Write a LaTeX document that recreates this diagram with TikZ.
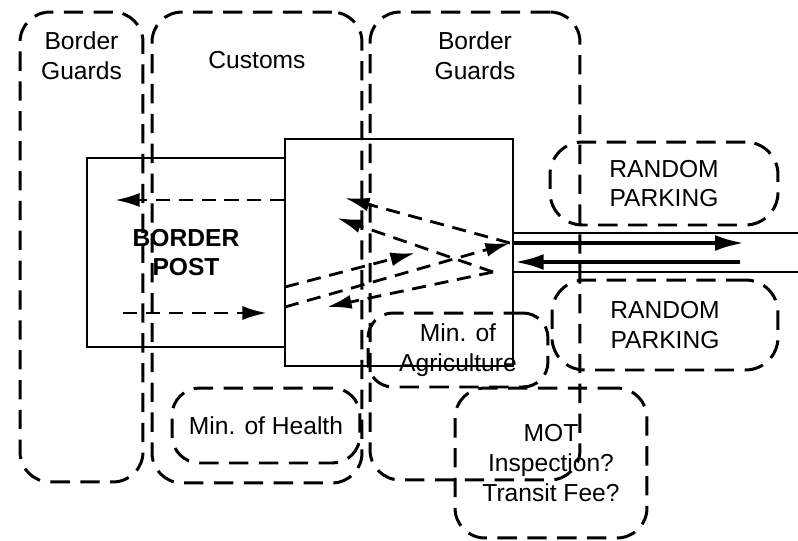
\documentclass[tikz,border=0pt]{standalone}
\usepackage{fontspec}
\setmainfont{Liberation Sans}
\usetikzlibrary{arrows.meta,positioning}
\tikzset{>={Latex[length=14pt,width=8pt]}}

\begin{document}
\begin{tikzpicture}[x=0.02cm,y=-0.02cm,
		font=\fontsize{14}{17}\selectfont,
		area/.style={draw, dash pattern=on 11pt off 6pt, line width=1.7pt, rounded corners=0.6cm, inner sep=0pt, align=center},
		room/.style={draw, line width=0.9pt, inner sep=0pt, align=center},
		flow/.style={->, dash pattern=on 8pt off 5pt, line width=1.6pt},
		lane/.style={-{Latex[length=17pt,width=9pt]}, line width=2.6pt},
		tag/.style={align=center, inner sep=0pt}]
		\useasboundingbox (0,0) rectangle (798,541);

		% zones of the crossing
		\node[area, minimum width=2.46cm, minimum height=9.4cm] (guardsL) at (81.5,247) {};
		\node[area, minimum width=4.2cm, minimum height=9.42cm] (customs) at (257,247.5) {};
		\node[area, minimum width=4.2cm, minimum height=9.36cm] (guardsR) at (475,246) {};
		\node[tag] (guardsLtxt) [below=12pt of guardsL.north] {Border\\Guards};
		\node[tag] (customstxt) [below=23pt of customs.north] {Customs};
		\node[tag] (guardsRtxt) [below=12pt of guardsR.north] {Border\\Guards};

		% buildings
		\node[room, minimum width=3.96cm, minimum height=3.78cm, font=\fontsize{14}{17}\selectfont\bfseries] (post) at (186,252.5) {BORDER\\POST};
		\node[room, minimum width=4.56cm, minimum height=4.54cm] (hall) at (399,252.5) {};

		% offices and parking
		\node[area, minimum width=4.56cm, minimum height=1.66cm, rounded corners=0.65cm] (parkA) at (664,183.5) {RANDOM\\PARKING};
		\node[area, minimum width=4.52cm, minimum height=1.8cm, rounded corners=0.65cm] (parkB) at (665,325) {RANDOM\\PARKING};
		\node[area, minimum width=3.6cm, minimum height=1.48cm, rounded corners=0.5cm] (agri) at (458,350) {Min. of\\Agriculture};
		\node[area, minimum width=3.76cm, minimum height=1.5cm, rounded corners=0.55cm] (health) at (266,425.5) {Min. of Health};
		\node[area, minimum width=3.84cm, minimum height=3cm] (mot) at (551,463) {MOT\\Inspection?\\Transit Fee?};

		% road
		\coordinate (roadTop) at (798,233);
		\coordinate (roadLow) at (798,272);
		\coordinate (outLane) at (745,243);
		\coordinate (inLane) at (740,262);
		\draw[line width=0.9pt] (hall.east |- roadTop) -- (roadTop);
		\draw[line width=0.9pt] (hall.east |- roadLow) -- (roadLow);
		\draw[lane] (hall.east |- outLane) -- (outLane);
		\draw[lane] (inLane) -- (hall.east |- inLane);

		% traffic through the post
		\coordinate (exitTip) at (115,200);
		\coordinate (entryTail) at (123,313);
		\coordinate (entryTip) at (267,313);
		\coordinate (checkIn) at (285,287);
		\coordinate (checkTip) at (415,253);
		\coordinate (laneIn) at (285,307);
		\coordinate (laneTip) at (510,243);
		\coordinate (backTop) at (345,198);
		\coordinate (backMid) at (337,218);
		\coordinate (backLow) at (327,307);
		\coordinate (fork) at (493,272);
		\draw[flow] (hall.west |- exitTip) -- (exitTip);
		\draw[flow] (entryTail) -- (entryTip);
		\draw[flow] (checkIn) -- (checkTip);
		\draw[flow] (laneIn) -- (laneTip);
		\draw[flow] (laneTip) -- (backTop);
		\draw[flow] (fork) -- (backMid);
		\draw[flow] (fork) -- (backLow);
	\end{tikzpicture}
\end{document}
